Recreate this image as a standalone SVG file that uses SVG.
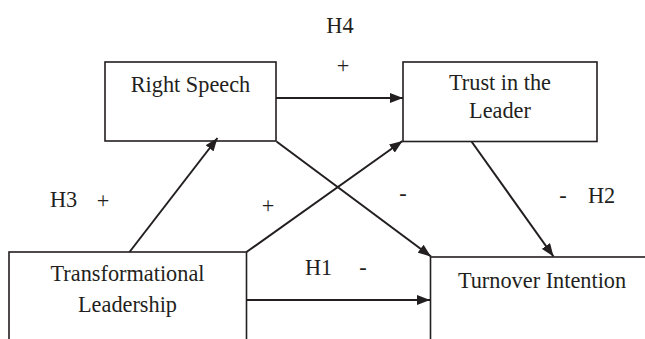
<svg xmlns="http://www.w3.org/2000/svg" width="645" height="339" viewBox="0 0 645 339">
<style>
.box{fill:#fff;stroke:#231f20;stroke-width:1.6}
text{font-family:'Liberation Serif','Times New Roman','DejaVu Serif',serif;font-size:22.3px;fill:#231f20}
.c{text-anchor:middle}
.e{stroke:#231f20;stroke-width:2;fill:none;marker-end:url(#ah)}
</style>
<defs>
<marker id="ah" viewBox="0 0 13 10" refX="13" refY="5" markerWidth="13" markerHeight="10" markerUnits="userSpaceOnUse" orient="auto">
<path d="M0,0 L13,5 L0,10 Z" fill="#231f20"/>
</marker>
</defs>
<rect width="645" height="339" fill="#fff"/>
<g id="n-rightspeech">
<rect class="box" x="105" y="62" width="171" height="79"/>
<text class="c" x="190.5" y="92">Right Speech</text>
</g>
<g id="n-trust">
<rect class="box" x="403" y="62" width="194" height="79.5"/>
<text class="c" x="500" y="90">Trust in the</text>
<text class="c" x="500" y="118">Leader</text>
</g>
<g id="n-tl">
<rect class="box" x="9" y="252" width="237.5" height="100"/>
<text class="c" x="127.5" y="281">Transformational</text>
<text class="c" x="127.5" y="312">Leadership</text>
</g>
<g id="n-turnover">
<rect class="box" x="430.5" y="257" width="230" height="100"/>
<text class="c" x="542" y="288">Turnover Intention</text>
</g>
<g id="connectors">
<line class="e" x1="276" y1="98" x2="403" y2="98"/>
<line class="e" x1="129.5" y1="252" x2="217.5" y2="138"/>
<line class="e" x1="246.5" y1="252" x2="402.5" y2="141"/>
<line class="e" x1="276.5" y1="141.5" x2="431" y2="256.5"/>
<line class="e" x1="471.5" y1="141.5" x2="553.5" y2="256.5"/>
<line class="e" x1="246.5" y1="300" x2="430" y2="300"/>
</g>
<g id="labels">
<text class="c" x="340" y="33">H4</text>
<text class="c" x="343" y="73">+</text>
<text x="50" y="207">H3</text>
<text class="c" x="103" y="208">+</text>
<text class="c" x="268" y="213">+</text>
<text class="c" x="403" y="201">-</text>
<text class="c" x="563" y="203">-</text>
<text x="588" y="203">H2</text>
<text x="305" y="275">H1</text>
<text class="c" x="363" y="275">-</text>
</g>
</svg>
